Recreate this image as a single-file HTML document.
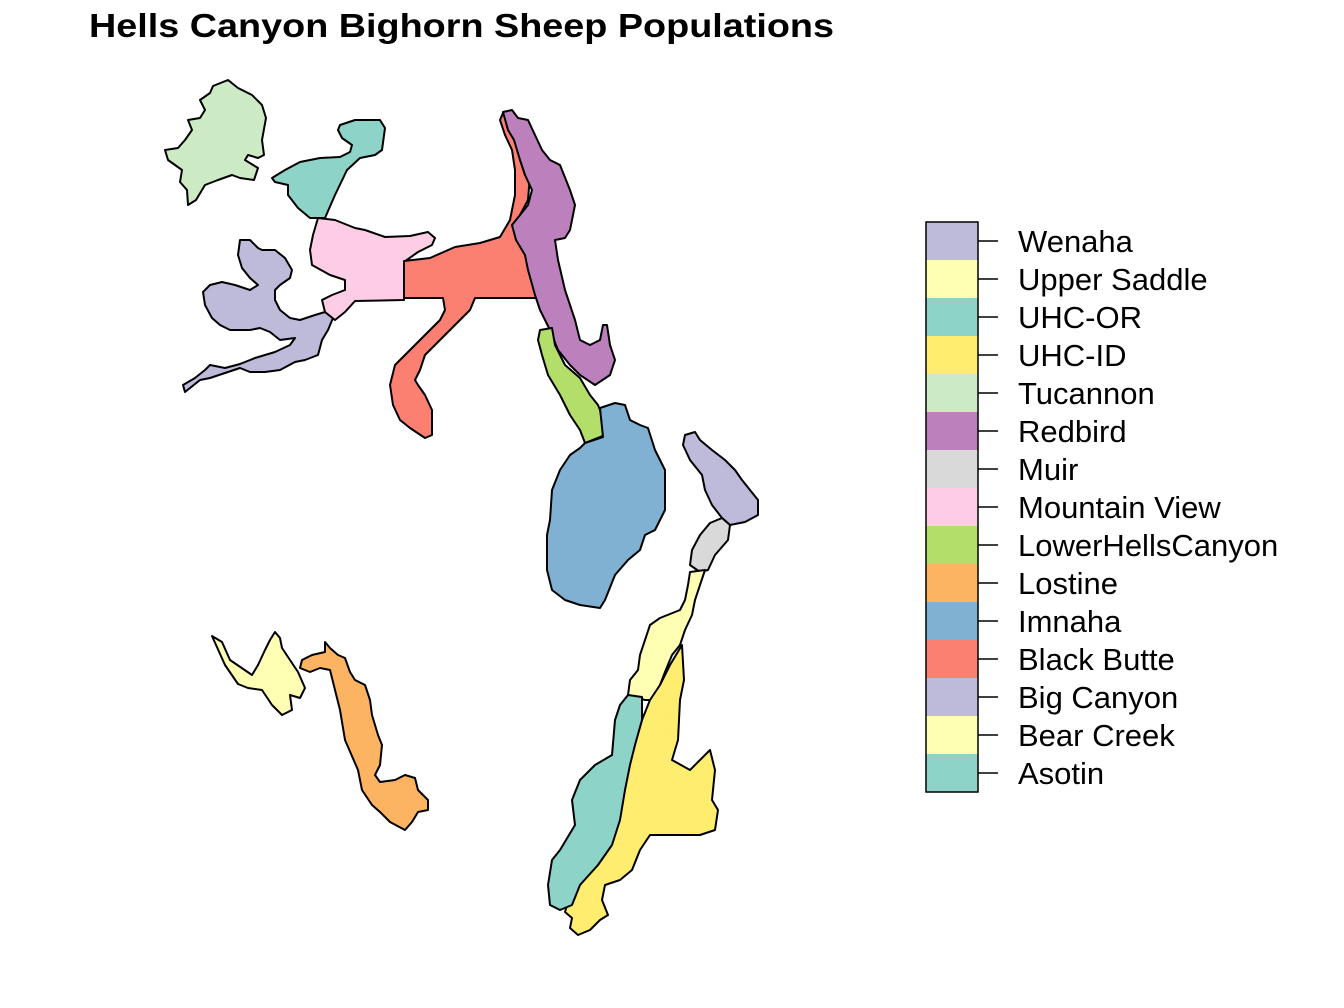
<!DOCTYPE html>
<html><head><meta charset="utf-8"><style>
html,body{margin:0;padding:0;background:#fff;}
svg{display:block;font-family:"Liberation Sans",Arial,sans-serif;}
</style></head><body>
<svg id="c" width="1344" height="1008" viewBox="0 0 1344 1008">
<text x="89" y="37" font-size="33" font-weight="bold" textLength="745" lengthAdjust="spacingAndGlyphs">Hells Canyon Bighorn Sheep Populations</text>
<g id="map"></g>
<g id="legend"></g>
</svg>
<script>
const categories=["Wenaha","Upper Saddle","UHC-OR","UHC-ID","Tucannon","Redbird","Muir","Mountain View","LowerHellsCanyon","Lostine","Imnaha","Black Butte","Big Canyon","Bear Creek","Asotin"];
const colors=["#bebada","#ffffb3","#8dd3c7","#ffed6f","#ccebc5","#bc80bd","#d9d9d9","#fccde5","#b3de69","#fdb462","#80b1d3","#fb8072","#bebada","#ffffb3","#8dd3c7"];
const regions=[
["tucannon","Tucannon",[[213,86],[228,80],[238,88],[252,95],[262,105],[266,118],[262,140],[264,155],[258,158],[248,155],[245,160],[258,168],[254,180],[240,178],[232,175],[218,180],[205,185],[196,200],[188,205],[187,190],[180,182],[182,170],[168,160],[165,150],[178,148],[185,140],[192,130],[188,120],[200,118],[205,110],[200,100],[210,93]]],
["uhc-or","UHC-OR",[[340,125],[355,120],[380,120],[385,128],[382,150],[375,155],[360,158],[347,170],[335,195],[325,218],[310,218],[298,208],[288,195],[288,185],[275,182],[272,178],[285,170],[300,162],[320,158],[340,157],[350,152],[352,145],[342,138],[338,130]]],
["wenaha","Wenaha",[[240,240],[250,240],[258,248],[262,250],[275,250],[285,258],[292,270],[290,278],[280,285],[275,290],[275,300],[280,310],[290,318],[300,320],[315,315],[325,312],[333,318],[328,330],[322,340],[318,355],[305,360],[295,362],[280,370],[265,372],[250,372],[240,368],[225,373],[210,378],[200,380],[190,388],[185,392],[183,385],[195,378],[205,370],[210,365],[225,368],[240,364],[255,358],[275,352],[290,345],[295,338],[280,340],[270,332],[260,328],[250,330],[230,330],[220,325],[212,318],[205,305],[203,292],[210,285],[222,282],[235,285],[250,290],[258,285],[250,278],[242,268],[238,255]]],
["mountain-view","Mountain View",[[318,218],[335,220],[355,228],[365,230],[385,237],[410,236],[428,232],[435,238],[432,245],[418,252],[404,262],[404,300],[355,301],[345,312],[335,320],[325,312],[322,300],[332,295],[345,290],[345,280],[330,275],[312,265],[310,250],[313,235]]],
["black-butte","Black Butte",[[404,261],[430,258],[455,247],[480,243],[500,237],[510,220],[515,195],[515,170],[512,150],[505,135],[500,120],[503,113],[510,115],[514,125],[520,140],[522,155],[530,175],[528,200],[520,215],[515,225],[520,240],[530,260],[538,298],[475,298],[470,310],[455,325],[440,340],[425,355],[420,370],[415,380],[418,385],[425,395],[432,410],[432,435],[425,438],[410,428],[400,420],[393,405],[390,385],[395,365],[410,350],[425,335],[440,320],[445,310],[443,298],[404,298]]],
["redbird","Redbird",[[503,112],[512,110],[518,118],[528,120],[535,135],[542,150],[550,160],[560,165],[570,190],[575,205],[570,230],[565,238],[555,240],[558,260],[565,290],[575,320],[580,340],[590,345],[600,340],[603,325],[607,325],[610,345],[615,360],[610,375],[595,385],[580,375],[570,365],[558,350],[550,330],[540,310],[535,295],[528,270],[525,255],[516,240],[512,225],[520,215],[528,205],[532,190],[525,175],[520,160],[514,140],[508,130]]],
["lower-hells-canyon","LowerHellsCanyon",[[540,330],[552,328],[555,345],[565,365],[580,378],[590,395],[598,405],[600,410],[605,435],[585,443],[580,430],[570,415],[560,395],[548,375],[542,355],[538,340]]],
["imnaha","Imnaha",[[600,408],[615,403],[625,405],[630,420],[640,425],[648,428],[655,450],[665,470],[665,510],[655,530],[645,535],[640,550],[628,560],[615,575],[605,600],[600,608],[580,605],[565,600],[552,590],[547,570],[547,535],[550,520],[552,490],[560,470],[570,455],[580,448],[585,443],[603,437]]],
["big-canyon","Big Canyon",[[685,435],[695,432],[700,440],[712,450],[725,460],[735,470],[742,480],[750,490],[758,500],[758,515],[745,522],[730,525],[722,518],[712,505],[705,490],[702,475],[690,460],[683,445]]],
["muir","Muir",[[722,518],[730,525],[728,540],[715,555],[708,570],[700,572],[690,565],[692,550],[700,535],[710,523]]],
["upper-saddle","Upper Saddle",[[690,572],[705,570],[700,585],[695,600],[692,615],[685,630],[680,645],[672,655],[665,672],[660,685],[655,700],[645,700],[628,695],[630,680],[638,670],[640,655],[645,640],[650,625],[660,618],[680,610],[685,600],[688,585]]],
["uhc-id","UHC-ID",[[682,645],[684,680],[680,700],[678,740],[672,760],[690,770],[710,750],[715,770],[712,800],[718,810],[715,830],[700,835],[650,835],[640,850],[632,870],[620,880],[605,885],[602,900],[608,915],[600,920],[590,930],[578,935],[570,928],[572,918],[565,912],[570,895],[578,880],[592,865],[605,850],[612,830],[620,800],[625,770],[630,760],[642,720],[650,700],[660,685],[670,665]]],
["asotin","Asotin",[[628,695],[642,697],[642,720],[635,745],[630,765],[625,790],[620,820],[612,845],[598,865],[580,885],[572,905],[560,910],[550,905],[548,885],[552,860],[560,850],[575,825],[572,800],[580,780],[595,765],[612,755],[615,720],[620,705]]],
["bear-creek","Bear Creek",[[212,636],[222,642],[230,660],[252,675],[258,665],[265,650],[270,640],[275,632],[280,638],[282,648],[290,660],[298,672],[305,688],[300,698],[290,695],[292,710],[282,715],[272,705],[262,690],[248,688],[238,684],[225,665]]],
["lostine","Lostine",[[325,642],[330,648],[338,655],[345,658],[350,672],[355,680],[365,685],[370,700],[372,715],[378,735],[382,745],[380,765],[375,775],[380,782],[395,780],[405,775],[415,778],[418,790],[428,800],[428,810],[418,812],[412,822],[405,830],[390,822],[380,812],[372,805],[362,790],[358,770],[345,740],[340,710],[335,690],[330,670],[320,668],[310,672],[300,668],[302,660],[312,655],[325,652]]]
];
const NS="http://www.w3.org/2000/svg";
const mapG=document.getElementById('map');
regions.forEach(r=>{
  const p=document.createElementNS(NS,'polygon');
  p.setAttribute('points',r[2].map(q=>q.join(',')).join(' '));
  p.setAttribute('fill',colors[categories.indexOf(r[1])]);
  p.setAttribute('stroke','#000');p.setAttribute('stroke-width','2');p.setAttribute('stroke-linejoin','round');
  
  
  mapG.appendChild(p);
});
const lg=document.getElementById('legend');
const legTop=222,legH=38,legX=926,legW=52;
categories.forEach((c,i)=>{
  const r=document.createElementNS(NS,'rect');
  r.setAttribute('x',legX);r.setAttribute('y',legTop+i*legH);r.setAttribute('width',legW);r.setAttribute('height',legH);
  r.setAttribute('fill',colors[i]);
  
  
  lg.appendChild(r);
  const t=document.createElementNS(NS,'line');
  const y=legTop+i*legH+legH/2;
  t.setAttribute('x1',legX+legW);t.setAttribute('x2',legX+legW+20);t.setAttribute('y1',y);t.setAttribute('y2',y);
  t.setAttribute('stroke','#000');t.setAttribute('stroke-width','1.5');
  
  
  lg.appendChild(t);
  const tx=document.createElementNS(NS,'text');
  tx.setAttribute('x',1018);tx.setAttribute('y',y+11);tx.setAttribute('font-size','31');
  tx.textContent=c;
  
  
  lg.appendChild(tx);
});
const b=document.createElementNS(NS,'rect');
b.setAttribute('x',legX);b.setAttribute('y',legTop);b.setAttribute('width',legW);b.setAttribute('height',legH*categories.length);
b.setAttribute('fill','none');b.setAttribute('stroke','#000');b.setAttribute('stroke-width','1.5');


lg.appendChild(b);
</script>
</body></html>
